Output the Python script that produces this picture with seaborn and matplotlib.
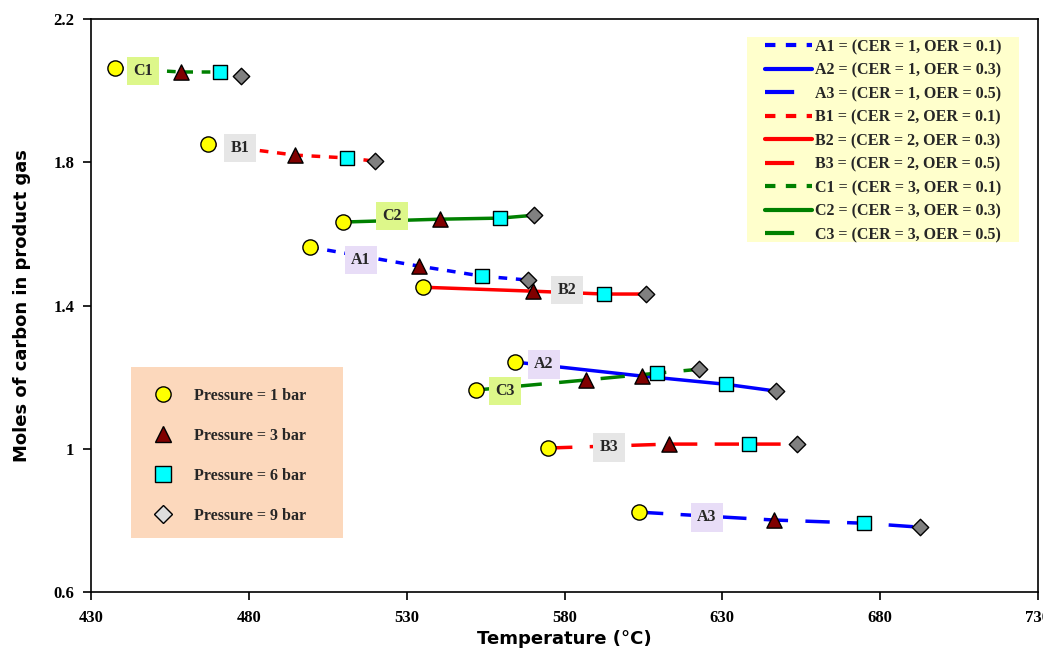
import numpy as np
import pandas as pd
import matplotlib
matplotlib.use("Agg")
import matplotlib.pyplot as plt
from matplotlib.lines import Line2D
from matplotlib.patches import Rectangle
import seaborn as sns

# ---- data ----
series_names = ["A1", "A2", "A3", "B1", "B2", "B3", "C1", "C2", "C3"]
pressures = ["Pressure = 1 bar", "Pressure = 3 bar", "Pressure = 6 bar", "Pressure = 9 bar"]

A1_T = [499.4, 533.9, 553.9, 568.4]
A1_C = [1.563, 1.510, 1.482, 1.471]
A2_T = [564.3, 604.5, 631.1, 647.0]
A2_C = [1.242, 1.203, 1.180, 1.161]
A3_T = [603.6, 646.3, 674.9, 692.6]
A3_C = [0.823, 0.801, 0.792, 0.781]
B1_T = [467.1, 494.6, 511.1, 520.0]
B1_C = [1.851, 1.820, 1.812, 1.803]
B2_T = [535.2, 570.0, 592.5, 605.8]
B2_C = [1.451, 1.440, 1.432, 1.432]
B3_T = [574.8, 613.1, 638.4, 653.6]
B3_C = [1.002, 1.013, 1.013, 1.013]
C1_T = [437.6, 458.5, 470.9, 477.5]
C1_C = [2.063, 2.052, 2.052, 2.041]
C2_T = [509.8, 540.5, 559.6, 570.3]
C2_C = [1.633, 1.641, 1.644, 1.652]
C3_T = [552.0, 586.8, 609.3, 622.6]
C3_C = [1.164, 1.192, 1.211, 1.222]

legend_labels = ["A1 = (CER = 1, OER = 0.1)", "A2 = (CER = 1, OER = 0.3)", "A3 = (CER = 1, OER = 0.5)",
                 "B1 = (CER = 2, OER = 0.1)", "B2 = (CER = 2, OER = 0.3)", "B3 = (CER = 2, OER = 0.5)",
                 "C1 = (CER = 3, OER = 0.1)", "C2 = (CER = 3, OER = 0.3)", "C3 = (CER = 3, OER = 0.5)"]

# label box positions (data coords)
label_T = [515.5, 573.5, 625.1, 477.2, 580.8, 594.1, 446.5, 525.3, 561.1]
label_C = [1.527, 1.236, 0.809, 1.840, 1.443, 1.004, 2.055, 1.650, 1.161]

x_ticks = [430, 480, 530, 580, 630, 680, 730]
y_ticks = [0.6, 1.0, 1.4, 1.8, 2.2]
y_tick_labels = ["0.6", "1", "1.4", "1.8", "2.2"]

Ts = [A1_T, A2_T, A3_T, B1_T, B2_T, B3_T, C1_T, C2_T, C3_T]
Cs = [A1_C, A2_C, A3_C, B1_C, B2_C, B3_C, C1_C, C2_C, C3_C]

rows = []
for name, T, C in zip(series_names, Ts, Cs):
    for p, t, c in zip(pressures, T, C):
        rows.append(dict(series=name, T=t, C=c, pressure=p))
df = pd.DataFrame(rows)

# ---- styles ----
sns.set_theme(style="white")
plt.rcParams["font.family"] = ["Liberation Serif", "DejaVu Serif"]

family_color = {"A": "#0000FF", "B": "#FF0000", "C": "#008000"}
short = (2.5, 2.5)
long_ = (7, 5)
dash_map = {"1": short, "2": "", "3": long_}
palette = {n: family_color[n[0]] for n in series_names}
dashes = {n: dash_map[n[1]] for n in series_names}
box_color = {"A": "#E8DDF7", "B": "#E6E6E6", "C": "#DDF78A"}

marker_map = {pressures[0]: "o", pressures[1]: "^", pressures[2]: "s", pressures[3]: "D"}
face_map = {pressures[0]: "#FFFF00", pressures[1]: "#800000", pressures[2]: "#00FFFF", pressures[3]: "#808080"}
size_map = {pressures[0]: 120, pressures[1]: 120, pressures[2]: 110, pressures[3]: 70}

fig = plt.figure(figsize=(10.43, 6.52), dpi=100)
ax = fig.add_axes([91/1043, 1-592/652, (1038-91)/1043, (592-19)/652])

sns.lineplot(data=df, x="T", y="C", hue="series", style="series", palette=palette,
             dashes=dashes, sort=False, estimator=None, linewidth=2.5, legend=False, ax=ax, zorder=2)

for p in pressures:
    sub = df[df["pressure"] == p]
    sns.scatterplot(data=sub, x="T", y="C", marker=marker_map[p], color=face_map[p],
                    edgecolor="black", linewidth=1.0, s=size_map[p], legend=False, ax=ax, zorder=3)

for name, lt, lc in zip(series_names, label_T, label_C):
    ax.text(lt, lc, name, ha="center", va="center", fontsize=11.5, fontweight="bold", zorder=4,
            bbox=dict(boxstyle="square,pad=0.4", facecolor=box_color[name[0]], edgecolor="none"))

ax.set_xlim(430, 730)
ax.set_ylim(0.6, 2.2)
ax.set_xticks(x_ticks)
ax.set_xticklabels([str(v) for v in x_ticks])
ax.set_yticks(y_ticks)
ax.set_yticklabels(y_tick_labels)
ax.tick_params(axis="both", bottom=True, left=True, direction="out", length=6, width=1.2,
               color="black", labelsize=12, labelcolor="black")
ax.tick_params(axis="x", pad=7)
ax.tick_params(axis="y", pad=6)
for lab in ax.get_xticklabels() + ax.get_yticklabels():
    lab.set_fontweight("bold")
for s in ax.spines.values():
    s.set_color("black")
    s.set_linewidth(1.2)

ax.set_xlabel("Temperature (°C)", fontsize=13, fontweight="bold", family="DejaVu Sans", labelpad=3,
              color="black")
ax.set_ylabel("Moles of carbon in product gas", fontsize=13, fontweight="bold", family="DejaVu Sans",
              labelpad=16, color="black")

# legend 1 background + entries
ax.add_patch(Rectangle((0.6927, 0.6108), 0.2872, 0.3578, transform=ax.transAxes,
                       facecolor="#FFFFCC", edgecolor="none", zorder=5))
handles1 = []
for name in series_names:
    d = dash_map[name[1]]
    h = Line2D([], [], color=family_color[name[0]], linewidth=3)
    if d != "":
        h.set_dashes(d)
    handles1.append(h)
leg1 = ax.legend(handles1, legend_labels, loc="upper left", bbox_to_anchor=(0.7117, 0.9651),
                 borderaxespad=0, frameon=False, borderpad=0,
                 prop=dict(family="Liberation Serif", weight="bold", size=11.5), labelspacing=0.47,
                 handlelength=2.95, handletextpad=0.2)
leg1.set_zorder(6)
ax.add_artist(leg1)

# legend 2 background + entries
ax.add_patch(Rectangle((0.0422, 0.0942), 0.2239, 0.2984, transform=ax.transAxes,
                       facecolor="#FCD8BC", edgecolor="none", zorder=5))
legend_face = {pressures[0]: "#FFFF00", pressures[1]: "#800000", pressures[2]: "#00FFFF", pressures[3]: "#DDDDDD"}
handles2 = [Line2D([], [], linestyle="none", marker=marker_map[p], markerfacecolor=legend_face[p],
                   markeredgecolor="black", markersize=11 if p != pressures[3] else 9) for p in pressures]
leg2 = ax.legend(handles2, pressures, loc="upper left", bbox_to_anchor=(0.0644, 0.356),
                 borderaxespad=0, frameon=False, borderpad=0,
                 prop=dict(family="Liberation Serif", weight="bold", size=11.5), labelspacing=1.5,
                 handlelength=1.4, handletextpad=1.2)
leg2.set_zorder(6)

fig.savefig("out.png", dpi=100)
